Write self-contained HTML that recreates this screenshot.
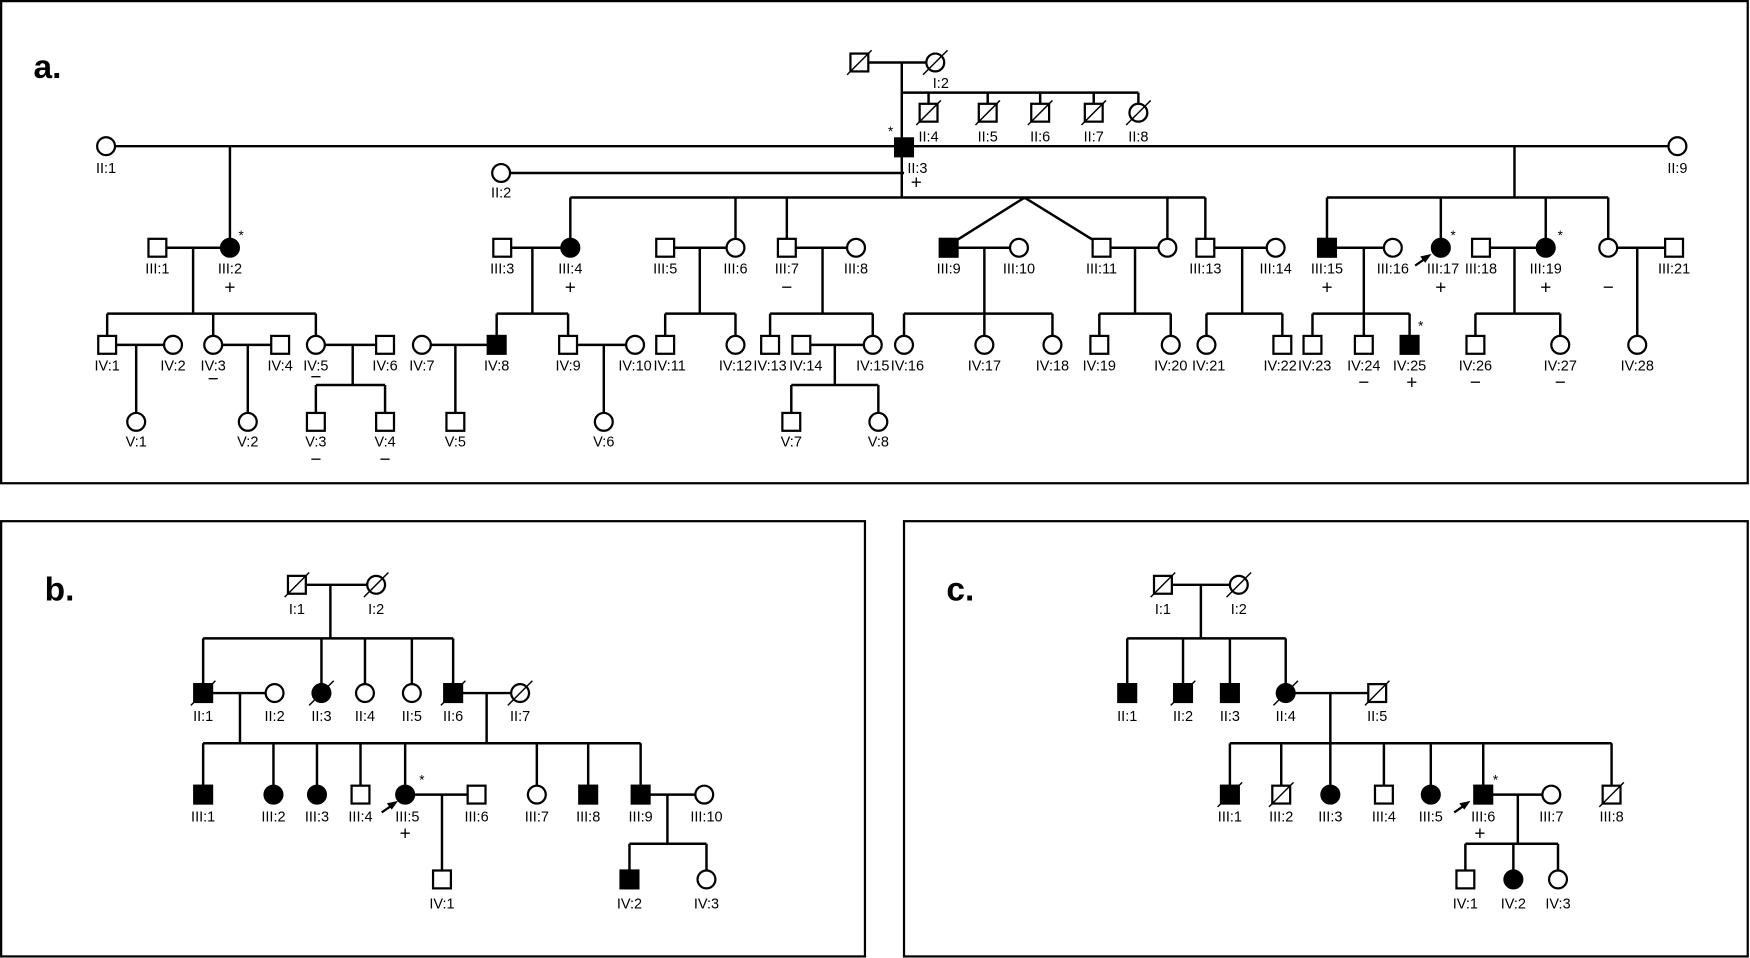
<!DOCTYPE html>
<html><head><meta charset="utf-8"><style>
html,body{margin:0;padding:0;background:#fff}
svg{display:block}
text{font-family:"Liberation Sans Narrow","Liberation Sans",Arial,sans-serif;font-size:13px;text-anchor:middle;fill:#000}
.pm{font-size:17px;font-family:"Liberation Sans",sans-serif}
.big{font-size:30px;font-weight:bold;text-anchor:start}
.st{font-size:12px}
</style></head><body>
<svg width="1750" height="958" viewBox="0 0 1568 858.4" xmlns="http://www.w3.org/2000/svg">
<defs>
<rect id="s" x="-8" y="-8" width="16" height="16" fill="#fff" stroke="#000" stroke-width="2"/>
<rect id="S" x="-8" y="-8" width="16" height="16" fill="#000" stroke="#000" stroke-width="2"/>
<circle id="c" r="8" fill="#fff" stroke="#000" stroke-width="2"/>
<circle id="C" r="8" fill="#000" stroke="#000" stroke-width="2"/>
<line id="d" x1="-11" y1="11" x2="11" y2="-11" stroke="#000" stroke-width="1.3"/>
</defs>
<g fill="none" stroke="#000" stroke-width="2">
<rect x="1" y="1" width="1565" height="432"/>
<rect x="1" y="467" width="774" height="390"/>
<rect x="810" y="467" width="756" height="390"/>
</g>
<text x="30" y="70" class="big">a.</text>
<text x="40" y="538" class="big">b.</text>
<text x="848" y="538" class="big">c.</text>
<path fill="none" stroke="#000" stroke-width="2.2" d="
M770 56H838 M808 56V177 M808 83H1020 M832 83V101 M885 83V101 M932 83V101 M980 83V101 M1020 83V101
M95 131H1503 M206 131V222 M449 155H810 M511 177H1080 M511 177V222 M659 177V222 M705 177V222 M1046 177V222 M1080 177V222 M856 216L918 177L981 216
M1357 131V177 M1189 177H1441 M1189 177V222 M1291 177V222 M1385 177V222 M1441 177V222
M141 222H206 M173 222V281 M96 281H283 M96 281V309 M191 281V309 M283 281V309
M96 309H155 M122 309V378 M191 309H251 M222 309V378 M283 309H345 M316 309V345 M283 345H345 M283 345V378 M345 345V378
M450 222H511 M477 222V281 M445 281H509 M445 281V309 M509 281V309 M378 309H445 M408 309V378 M509 309H569 M541 309V378
M596 222H659 M627 222V281 M596 281H659 M596 281V309 M659 281V309
M705 222H767 M737 222V281 M690 281H782 M690 281V309 M782 281V309 M718 309H782 M748 309V345 M709 345H787 M709 345V378 M787 345V378
M850 222H913 M882 222V309 M810 281H943 M810 281V309 M943 281V309
M987 222H1046 M1017 222V281 M985 281H1049 M985 281V309 M1049 281V309
M1080 222H1143 M1113 222V281 M1081 281H1149 M1081 281V309 M1149 281V309
M1189 222H1248 M1222 222V309 M1176 281H1263 M1176 281V309 M1263 281V309
M1327 222H1385 M1357 222V281 M1322 281H1398 M1322 281V309 M1398 281V309
M1441 222H1500 M1467 222V309
M266 524H337 M296 524V572 M182 572H406 M182 572V621 M288 572V621 M327 572V621 M369 572V621 M406 572V621
M182 621H246 M215 621V666 M406 621H466 M436 621V666 M182 666H574 M182 666V712 M245 666V712 M284 666V712 M323 666V712 M363 666V712 M481 666V712 M527 666V712 M574 666V712
M363 712H427 M396 712V788 M574 712H631 M598 712V756 M564 756H633 M564 756V788 M633 756V788
M1042 524H1110 M1076 524V572 M1010 572H1152 M1010 572V621 M1060 572V621 M1102 572V621 M1152 572V621
M1152 621H1234 M1192 621V666 M1102 666H1444 M1102 666V712 M1148 666V712 M1192 666V712 M1240 666V712 M1282 666V712 M1329 666V712 M1444 666V712
M1329 712H1390 M1360 712V756 M1313 756H1396 M1313 756V788 M1356 756V788 M1396 756V788
"/>
<use href="#s" x="770" y="56"/><use href="#d" x="770" y="56"/>
<use href="#c" x="838" y="56"/><use href="#d" x="838" y="56"/>
<use href="#s" x="832" y="101"/><use href="#d" x="832" y="101"/>
<use href="#s" x="885" y="101"/><use href="#d" x="885" y="101"/>
<use href="#s" x="932" y="101"/><use href="#d" x="932" y="101"/>
<use href="#s" x="980" y="101"/><use href="#d" x="980" y="101"/>
<use href="#c" x="1020" y="101"/><use href="#d" x="1020" y="101"/>
<use href="#c" x="95" y="131"/><use href="#S" x="810" y="132"/><use href="#c" x="1503" y="131"/>
<use href="#c" x="449" y="155"/>
<use href="#s" x="141" y="222"/><use href="#C" x="206" y="222"/>
<use href="#s" x="450" y="222"/><use href="#C" x="511" y="222"/>
<use href="#s" x="596" y="222"/><use href="#c" x="659" y="222"/>
<use href="#s" x="705" y="222"/><use href="#c" x="767" y="222"/>
<use href="#S" x="850" y="222"/><use href="#c" x="913" y="222"/>
<use href="#s" x="987" y="222"/><use href="#c" x="1046" y="222"/>
<use href="#s" x="1080" y="222"/><use href="#c" x="1143" y="222"/>
<use href="#S" x="1189" y="222"/><use href="#c" x="1248" y="222"/>
<use href="#C" x="1291" y="222"/>
<use href="#s" x="1327" y="222"/><use href="#C" x="1385" y="222"/>
<use href="#c" x="1441" y="222"/><use href="#s" x="1500" y="222"/>
<use href="#s" x="96" y="309"/><use href="#c" x="155" y="309"/><use href="#c" x="191" y="309"/><use href="#s" x="251" y="309"/><use href="#c" x="283" y="309"/><use href="#s" x="345" y="309"/>
<use href="#c" x="378" y="309"/><use href="#S" x="445" y="309"/><use href="#s" x="509" y="309"/><use href="#c" x="569" y="309"/>
<use href="#s" x="596" y="309"/><use href="#c" x="659" y="309"/><use href="#s" x="690" y="309"/><use href="#s" x="718" y="309"/><use href="#c" x="782" y="309"/>
<use href="#c" x="810" y="309"/><use href="#c" x="882" y="309"/><use href="#c" x="943" y="309"/>
<use href="#s" x="985" y="309"/><use href="#c" x="1049" y="309"/><use href="#c" x="1081" y="309"/><use href="#s" x="1149" y="309"/>
<use href="#s" x="1176" y="309"/><use href="#s" x="1222" y="309"/><use href="#S" x="1263" y="309"/>
<use href="#s" x="1322" y="309"/><use href="#c" x="1398" y="309"/><use href="#c" x="1467" y="309"/>
<use href="#c" x="122" y="378"/><use href="#c" x="222" y="378"/><use href="#s" x="283" y="378"/><use href="#s" x="345" y="378"/>
<use href="#s" x="408" y="378"/><use href="#c" x="541" y="378"/><use href="#s" x="709" y="378"/><use href="#c" x="787" y="378"/>
<text x="843" y="79">I:2</text>
<text x="832" y="127">II:4</text><text x="885" y="127">II:5</text><text x="932" y="127">II:6</text><text x="980" y="127">II:7</text><text x="1020" y="127">II:8</text>
<text x="95" y="155">II:1</text><text x="822" y="155">II:3</text><text x="1503" y="155">II:9</text><text x="449" y="177">II:2</text>
<text class="pm" x="821" y="169">+</text><text class="st" x="798" y="122">*</text>
<text x="141" y="245">III:1</text><text x="206" y="245">III:2</text><text x="450" y="245">III:3</text><text x="511" y="245">III:4</text>
<text x="596" y="245">III:5</text><text x="659" y="245">III:6</text><text x="705" y="245">III:7</text><text x="767" y="245">III:8</text>
<text x="850" y="245">III:9</text><text x="913" y="245">III:10</text><text x="987" y="245">III:11</text><text x="1080" y="245">III:13</text><text x="1143" y="245">III:14</text>
<text x="1189" y="245">III:15</text><text x="1248" y="245">III:16</text><text x="1293" y="245">III:17</text><text x="1327" y="245">III:18</text><text x="1385" y="245">III:19</text><text x="1500" y="245">III:21</text>
<text class="pm" x="206" y="263">+</text><text class="pm" x="511" y="263">+</text><text class="pm" x="705" y="263">−</text>
<text class="pm" x="1189" y="263">+</text><text class="pm" x="1291" y="263">+</text><text class="pm" x="1385" y="263">+</text><text class="pm" x="1441" y="263">−</text>
<text class="st" x="216" y="215">*</text><text class="st" x="1302" y="215">*</text><text class="st" x="1398" y="215">*</text><text class="st" x="1273" y="296">*</text>
<text x="96" y="332">IV:1</text><text x="155" y="332">IV:2</text><text x="191" y="332">IV:3</text><text x="251" y="332">IV:4</text><text x="283" y="332">IV:5</text><text x="345" y="332">IV:6</text>
<text x="378" y="332">IV:7</text><text x="445" y="332">IV:8</text><text x="509" y="332">IV:9</text><text x="569" y="332">IV:10</text>
<text x="600" y="332">IV:11</text><text x="659" y="332">IV:12</text><text x="690" y="332">IV:13</text><text x="722" y="332">IV:14</text><text x="782" y="332">IV:15</text>
<text x="813" y="332">IV:16</text><text x="882" y="332">IV:17</text><text x="943" y="332">IV:18</text><text x="985" y="332">IV:19</text><text x="1049" y="332">IV:20</text>
<text x="1083" y="332">IV:21</text><text x="1147" y="332">IV:22</text><text x="1178" y="332">IV:23</text><text x="1222" y="332">IV:24</text><text x="1263" y="332">IV:25</text>
<text x="1322" y="332">IV:26</text><text x="1398" y="332">IV:27</text><text x="1467" y="332">IV:28</text>
<text class="pm" x="191" y="345">−</text><text class="pm" x="283" y="343">−</text>
<text class="pm" x="1222" y="348">−</text><text class="pm" x="1265" y="348">+</text><text class="pm" x="1322" y="348">−</text><text class="pm" x="1398" y="348">−</text>
<text x="122" y="400">V:1</text><text x="222" y="400">V:2</text><text x="283" y="400">V:3</text><text x="345" y="400">V:4</text><text x="408" y="400">V:5</text><text x="541" y="400">V:6</text><text x="709" y="400">V:7</text><text x="787" y="400">V:8</text>
<text class="pm" x="283" y="417">−</text><text class="pm" x="345" y="417">−</text>
<g stroke="#000" stroke-width="2" fill="#000">
<line x1="1268" y1="238" x2="1278" y2="231"/><polygon points="1282,228 1273,230 1277,235" stroke-width="0.5"/>
<line x1="342" y1="728" x2="352" y2="721"/><polygon points="356,718 347,720 351,725" stroke-width="0.5"/>
<line x1="1303" y1="728" x2="1313" y2="721"/><polygon points="1317,718 1308,720 1312,725" stroke-width="0.5"/>
</g>
<use href="#s" x="266" y="524"/><use href="#d" x="266" y="524"/><use href="#c" x="337" y="524"/><use href="#d" x="337" y="524"/>
<use href="#S" x="182" y="621"/><use href="#d" x="182" y="621"/><use href="#c" x="246" y="621"/>
<use href="#C" x="288" y="621"/><use href="#d" x="288" y="621"/><use href="#c" x="327" y="621"/><use href="#c" x="369" y="621"/>
<use href="#S" x="406" y="621"/><use href="#d" x="406" y="621"/><use href="#c" x="466" y="621"/><use href="#d" x="466" y="621"/>
<use href="#S" x="182" y="712"/><use href="#C" x="245" y="712"/><use href="#C" x="284" y="712"/><use href="#s" x="323" y="712"/><use href="#C" x="363" y="712"/><use href="#s" x="427" y="712"/>
<use href="#c" x="481" y="712"/><use href="#S" x="527" y="712"/><use href="#S" x="574" y="712"/><use href="#c" x="631" y="712"/>
<use href="#s" x="396" y="788"/><use href="#S" x="564" y="788"/><use href="#c" x="633" y="788"/>
<text x="266" y="550">I:1</text><text x="337" y="550">I:2</text>
<text x="182" y="646">II:1</text><text x="246" y="646">II:2</text><text x="288" y="646">II:3</text><text x="327" y="646">II:4</text><text x="369" y="646">II:5</text><text x="406" y="646">II:6</text><text x="466" y="646">II:7</text>
<text x="182" y="736">III:1</text><text x="245" y="736">III:2</text><text x="284" y="736">III:3</text><text x="323" y="736">III:4</text><text x="365" y="736">III:5</text><text x="427" y="736">III:6</text>
<text x="481" y="736">III:7</text><text x="527" y="736">III:8</text><text x="574" y="736">III:9</text><text x="633" y="736">III:10</text>
<text class="st" x="378" y="703">*</text><text class="pm" x="363" y="752">+</text>
<text x="396" y="814">IV:1</text><text x="564" y="814">IV:2</text><text x="633" y="814">IV:3</text>
<use href="#s" x="1042" y="524"/><use href="#d" x="1042" y="524"/><use href="#c" x="1110" y="524"/><use href="#d" x="1110" y="524"/>
<use href="#S" x="1010" y="621"/><use href="#S" x="1060" y="621"/><use href="#d" x="1060" y="621"/><use href="#S" x="1102" y="621"/>
<use href="#C" x="1152" y="621"/><use href="#d" x="1152" y="621"/><use href="#s" x="1234" y="621"/><use href="#d" x="1234" y="621"/>
<use href="#S" x="1102" y="712"/><use href="#d" x="1102" y="712"/><use href="#s" x="1148" y="712"/><use href="#d" x="1148" y="712"/>
<use href="#C" x="1192" y="712"/><use href="#s" x="1240" y="712"/><use href="#C" x="1282" y="712"/><use href="#S" x="1329" y="712"/><use href="#c" x="1390" y="712"/>
<use href="#s" x="1444" y="712"/><use href="#d" x="1444" y="712"/>
<use href="#s" x="1313" y="788"/><use href="#C" x="1356" y="788"/><use href="#c" x="1396" y="788"/>
<text x="1042" y="550">I:1</text><text x="1110" y="550">I:2</text>
<text x="1010" y="646">II:1</text><text x="1060" y="646">II:2</text><text x="1102" y="646">II:3</text><text x="1152" y="646">II:4</text><text x="1234" y="646">II:5</text>
<text x="1102" y="736">III:1</text><text x="1148" y="736">III:2</text><text x="1192" y="736">III:3</text><text x="1240" y="736">III:4</text><text x="1282" y="736">III:5</text><text x="1329" y="736">III:6</text><text x="1390" y="736">III:7</text><text x="1444" y="736">III:8</text>
<text class="st" x="1340" y="703">*</text><text class="pm" x="1326" y="752">+</text>
<text x="1313" y="814">IV:1</text><text x="1356" y="814">IV:2</text><text x="1396" y="814">IV:3</text>
</svg>
</body></html>
